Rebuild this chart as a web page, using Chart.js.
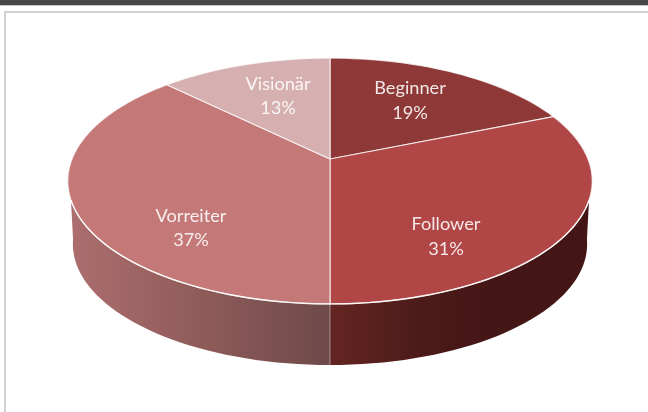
<!DOCTYPE html>
<html>
<head>
<meta charset="utf-8">
<script src="https://cdn.jsdelivr.net/npm/chart.js@4"></script>
<style>
html,body{margin:0;padding:0;background:#fff;width:648px;height:412px;overflow:hidden}
.f{position:absolute}
#c{position:absolute;left:0;top:0;filter:blur(0.45px)}
</style>
</head>
<body>
<div class="f" style="left:0;top:0;width:648px;height:5px;background:#484848"></div>
<div class="f" style="left:0;top:5px;width:648px;height:1px;background:#c4c4c4"></div>
<div class="f" style="left:4px;top:11px;width:644px;height:2px;background:#cfcfcf"></div>
<div class="f" style="left:4px;top:11px;width:2px;height:401px;background:#d2d2d2"></div>
<canvas id="c" width="648" height="412"></canvas>
<script>
const categories = ["Beginner", "Follower", "Vorreiter", "Visionär"];
const shares = [18.8, 31.2, 37.4, 12.6];
const sliceColors = ["#8e3838", "#b04746", "#c47877", "#d6b0b0"];
const labelCenters = [[410, 100.5], [446, 236.5], [191, 228], [278, 96]];

// perspective view of the disc
const tilt = -0.179;
const topFace = {r: 258, y0: 159, a: 119};
const baseFace = {r: 253, y0: 222.5, a: 117};
const topWall = [109, 251], baseWall = [98, 262]; // visible rim, degrees clockwise from 12 o'clock
const toClock = a => a * 180 / Math.PI + 90;
const toArc = d => (d - 90) * Math.PI / 180;

function project(face, cx, a) {
  const u = Math.cos(a), v = Math.sin(a), w = 1 + tilt * v;
  return [cx + face.r * u / w, face.y0 + face.a * v / w];
}
function rim(ctx, face, cx, from, to) {
  const n = Math.max(2, Math.ceil(Math.abs(to - from) * 90 / Math.PI));
  for (let i = 0; i <= n; i++) {
    const p = project(face, cx, from + (to - from) * i / n);
    ctx.lineTo(p[0], p[1]);
  }
}
const wallFills = [
  null,
  [[0, "#642522"], [0.35, "#4c1b19"], [0.6, "#441615"], [1, "#431514"]],
  [[0, "#ad6e6e"], [0.5, "#8f5b59"], [1, "#6e4a4a"]],
  null
];

const pie3d = {
  id: "pie3d",
  beforeDatasetsDraw(chart) {
    const ctx = chart.ctx, arcs = chart.getDatasetMeta(0).data;
    const cx = arcs[0].x;
    ctx.save();
    ctx.lineJoin = "round";
    arcs.forEach((el, i) => {
      const s = toClock(el.startAngle), e = toClock(el.endAngle);
      const t0 = Math.max(s, topWall[0]), t1 = Math.min(e, topWall[1]);
      const b0 = Math.max(s, baseWall[0]), b1 = Math.min(e, baseWall[1]);
      if (t1 <= t0 || b1 <= b0) return;
      ctx.beginPath();
      rim(ctx, topFace, cx, toArc(t0), toArc(t1));
      rim(ctx, baseFace, cx, toArc(b1), toArc(b0));
      ctx.closePath();
      const x0 = project(baseFace, cx, toArc(180))[0];
      const g = ctx.createLinearGradient(i === 1 ? x0 : x0 - 260, 0, i === 1 ? x0 + 260 : x0, 0);
      (wallFills[i] || [[0, el.options.backgroundColor], [1, el.options.backgroundColor]])
        .forEach(c => g.addColorStop(c[0], c[1]));
      ctx.fillStyle = g;
      ctx.fill();
    });
    // seam of the wall where two front slices meet
    arcs.forEach(el => {
      const d = toClock(el.endAngle);
      if (d > topWall[0] && d < topWall[1]) {
        const a = project(topFace, cx, el.endAngle), b = project(baseFace, cx, el.endAngle);
        ctx.beginPath(); ctx.moveTo(a[0], a[1]); ctx.lineTo(b[0], b[1]);
        ctx.strokeStyle = "rgba(255,255,255,0.45)"; ctx.lineWidth = 1; ctx.stroke();
      }
    });
    // top faces
    arcs.forEach(el => {
      ctx.beginPath();
      ctx.moveTo(cx, topFace.y0);
      rim(ctx, topFace, cx, el.startAngle, el.endAngle);
      ctx.closePath();
      ctx.fillStyle = el.options.backgroundColor;
      ctx.fill();
      ctx.strokeStyle = "rgba(255,255,255,0.75)";
      ctx.lineWidth = 1.2;
      ctx.stroke();
    });
    // bright front rim
    ctx.beginPath();
    rim(ctx, topFace, cx, toArc(topWall[0]), toArc(topWall[1]));
    ctx.strokeStyle = "rgba(255,255,255,0.85)";
    ctx.lineWidth = 1.4;
    ctx.stroke();
    // labels
    ctx.fillStyle = "rgba(255,255,255,0.88)";
    ctx.font = "18.2px Lato, 'Open Sans', sans-serif";
    ctx.textAlign = "center";
    ctx.textBaseline = "middle";
    categories.forEach((name, i) => {
      const [x, y] = labelCenters[i];
      ctx.fillText(name, x, y - 12);
      ctx.fillText(Math.round(shares[i]) + "%", x, y + 12.5);
    });
    ctx.restore();
    return false;
  }
};

new Chart(document.getElementById("c"), {
  type: "pie",
  data: {
    labels: categories,
    datasets: [{ data: shares, backgroundColor: sliceColors, borderWidth: 0 }]
  },
  options: {
    responsive: false,
    animation: false,
    layout: { padding: { left: 12 } },
    plugins: { legend: { display: false }, tooltip: { enabled: false } }
  },
  plugins: [pie3d]
});
</script>
</body>
</html>
